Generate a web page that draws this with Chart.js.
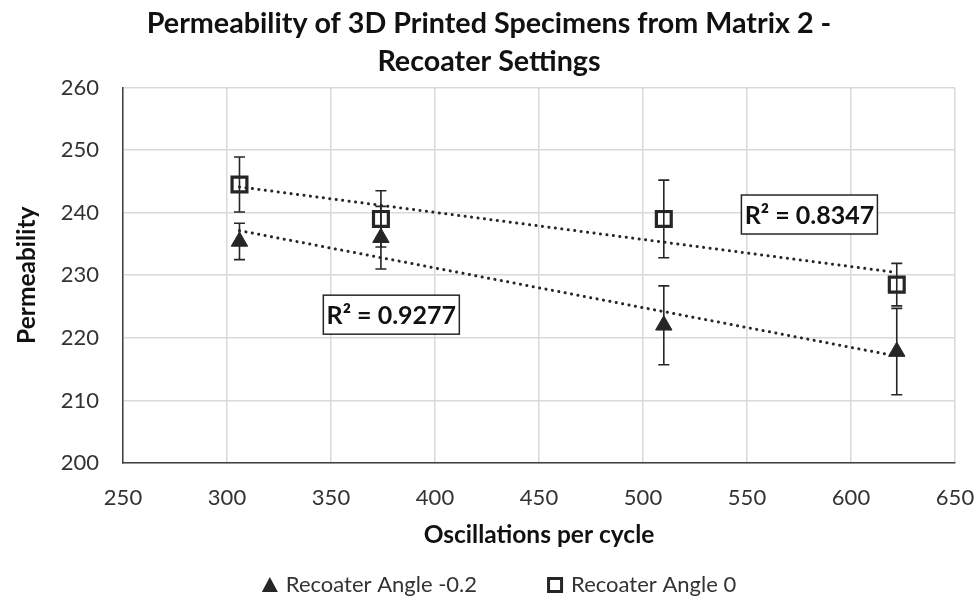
<!DOCTYPE html>
<html><head><meta charset="utf-8">
<script src="https://cdn.jsdelivr.net/npm/chart.js@4.4.1/dist/chart.umd.min.js"></script>
<style>html,body{margin:0;padding:0;background:#fff}#wrap{width:978px;height:605px}</style>
</head><body><div id="wrap"><canvas id="c" width="978" height="605"></canvas></div>
<script>
const seriesNames = ["Recoater Angle -0.2", "Recoater Angle 0"];
const oscA = [306, 374, 510, 622];
const permA = [235.4, 236.0, 222.0, 217.8];
const errA = [2.9, 5.0, 6.3, 6.9];
const oscB = [306, 374, 510, 622];
const permB = [244.5, 239.0, 239.0, 228.5];
const errB = [4.4, 4.5, 6.2, 3.4];
const r2Labels = ["R² = 0.9277", "R² = 0.8347"];
const r2Pos = [[379, 223.7], [580, 239.7]];
const xTicks = [250, 300, 350, 400, 450, 500, 550, 600, 650];
const yTicks = [200, 210, 220, 230, 240, 250, 260];

function fit(xs, ys) {
  const n = xs.length, mx = xs.reduce((a,b)=>a+b)/n, my = ys.reduce((a,b)=>a+b)/n;
  let sxy = 0, sxx = 0;
  for (let i=0;i<n;i++){ sxy += (xs[i]-mx)*(ys[i]-my); sxx += (xs[i]-mx)**2; }
  const m = sxy/sxx, b = my - m*mx;
  const x0 = Math.min(...xs), x1 = Math.max(...xs);
  return [{x:x0, y:m*x0+b}, {x:x1, y:m*x1+b}];
}
const pts = (xs, ys) => xs.map((x,i)=>({x, y: ys[i]}));
const dark = '#262626';
const FONT = 'Lato, "Open Sans", sans-serif';

const errorBars = {
  id: 'errorBars',
  beforeDatasetsDraw(chart) {
    const {ctx, scales:{x, y}} = chart;
    ctx.save();
    ctx.strokeStyle = dark; ctx.lineWidth = 1.6;
    [[oscA, permA, errA], [oscB, permB, errB]].forEach(([xs, ys, es]) => {
      xs.forEach((xv, i) => {
        const px = x.getPixelForValue(xv);
        const top = y.getPixelForValue(ys[i] + es[i]);
        const bot = y.getPixelForValue(ys[i] - es[i]);
        ctx.beginPath();
        ctx.moveTo(px, top); ctx.lineTo(px, bot);
        ctx.moveTo(px-5.5, top); ctx.lineTo(px+5.5, top);
        ctx.moveTo(px-5.5, bot); ctx.lineTo(px+5.5, bot);
        ctx.stroke();
      });
    });
    ctx.restore();
  }
};
const r2Boxes = {
  id: 'r2Boxes',
  afterDraw(chart) {
    const {ctx, scales:{x, y}} = chart;
    ctx.save();
    ctx.font = 'bold 25px ' + FONT;
    ctx.textAlign = 'center'; ctx.textBaseline = 'middle';
    r2Labels.forEach((t, i) => {
      const cx = x.getPixelForValue(r2Pos[i][0]), cy = y.getPixelForValue(r2Pos[i][1]);
      const w = 136, h = 39;
      ctx.fillStyle = '#fff'; ctx.fillRect(cx-w/2, cy-h/2, w, h);
      ctx.strokeStyle = dark; ctx.lineWidth = 1.5; ctx.strokeRect(cx-w/2, cy-h/2, w, h);
      ctx.fillStyle = '#111'; ctx.fillText(t, cx, cy+1);
    });
    ctx.restore();
  }
};
const customLegend = {
  id: 'customLegend',
  afterDraw(chart) {
    const {ctx} = chart;
    ctx.save();
    ctx.font = '22px ' + FONT;
    ctx.textBaseline = 'middle'; ctx.textAlign = 'left';
    const marker = 16, gapM = 8, gapItem = 70;
    const widths = seriesNames.map(t => ctx.measureText(t).width);
    const total = widths.reduce((a,b)=>a+b) + 2*(marker+gapM) + gapItem;
    let xPos = 499 - total/2;
    const yc = 585;
    seriesNames.forEach((t, i) => {
      if (i === 0) {
        ctx.fillStyle = dark; ctx.beginPath();
        ctx.moveTo(xPos, yc+7); ctx.lineTo(xPos+marker, yc+7); ctx.lineTo(xPos+marker/2, yc-8); ctx.closePath(); ctx.fill();
      } else {
        ctx.strokeStyle = dark; ctx.lineWidth = 3;
        ctx.strokeRect(xPos+1.5, yc-6.5, marker-3, marker-3);
      }
      xPos += marker + gapM;
      ctx.fillStyle = '#333';
      ctx.fillText(t, xPos, yc);
      xPos += widths[i] + gapItem;
    });
    ctx.restore();
  }
};

new Chart(document.getElementById('c'), {
  type: 'scatter',
  data: {
    datasets: [
      { label: seriesNames[0], data: pts(oscA, permA), pointStyle: 'triangle', radius: 9.5, hoverRadius: 9.5,
        backgroundColor: dark, borderColor: dark, borderWidth: 1, order: 1 },
      { label: seriesNames[1], data: pts(oscB, permB), pointStyle: 'rect', radius: 10.5, hoverRadius: 10.5,
        backgroundColor: 'rgba(255,255,255,0)', borderColor: dark, borderWidth: 3.2, order: 0 },
      { label: 'trendA', type: 'line', data: fit(oscA, permA), showLine: true, pointRadius: 0,
        borderColor: dark, borderWidth: 3, borderDash: [0.1, 6.4], borderCapStyle: 'round', fill: false, order: 2 },
      { label: 'trendB', type: 'line', data: fit(oscB, permB), showLine: true, pointRadius: 0,
        borderColor: dark, borderWidth: 3, borderDash: [0.1, 6.4], borderCapStyle: 'round', fill: false, order: 2 }
    ]
  },
  options: {
    responsive: false, animation: false, devicePixelRatio: 1,
    layout: { padding: { left: 0, right: 0, top: 0, bottom: 54 } },
    plugins: {
      tooltip: { enabled: false },
      title: { display: true, text: ['Permeability of 3D Printed Specimens from Matrix 2 -', 'Recoater Settings'],
        color: '#111', font: { family: FONT, size: 28.7, weight: 'bold', lineHeight: 1.32 }, padding: { top: 5, bottom: 6.7 } },
      legend: { display: false }
    },
    scales: {
      x: { type: 'linear', min: 250, max: 650,
        afterBuildTicks: s => { s.ticks = xTicks.map(v => ({value: v})); },
        afterFit: s => { s.height = 88; s.paddingLeft = 0; s.paddingRight = 23; },
        ticks: { color: '#333', font: { family: FONT, size: 22 }, padding: 22, maxRotation: 0 },
        grid: { color: '#d9d9d9', lineWidth: 1.5, drawTicks: false },
        border: { color: '#404040', width: 1.5 },
        title: { display: true, text: 'Oscillations per cycle', color: '#111', font: { family: FONT, size: 24.5, weight: 'bold', lineHeight: 1.2 }, padding: { top: 0, bottom: 1 } } },
      y: { min: 200, max: 260,
        afterBuildTicks: s => { s.ticks = yTicks.map(v => ({value: v})); },
        afterFit: s => { s.width = 123; },
        ticks: { color: '#333', font: { family: FONT, size: 22 }, padding: 24 },
        grid: { color: '#d9d9d9', lineWidth: 1.5, drawTicks: false },
        border: { color: '#404040', width: 1.5 },
        title: { display: true, text: 'Permeability', color: '#111', font: { family: FONT, size: 24.5, weight: 'bold', lineHeight: 1.2 }, padding: { top: 12.3, bottom: 0 } } }
    }
  },
  plugins: [errorBars, r2Boxes, customLegend]
});
</script></body></html>
